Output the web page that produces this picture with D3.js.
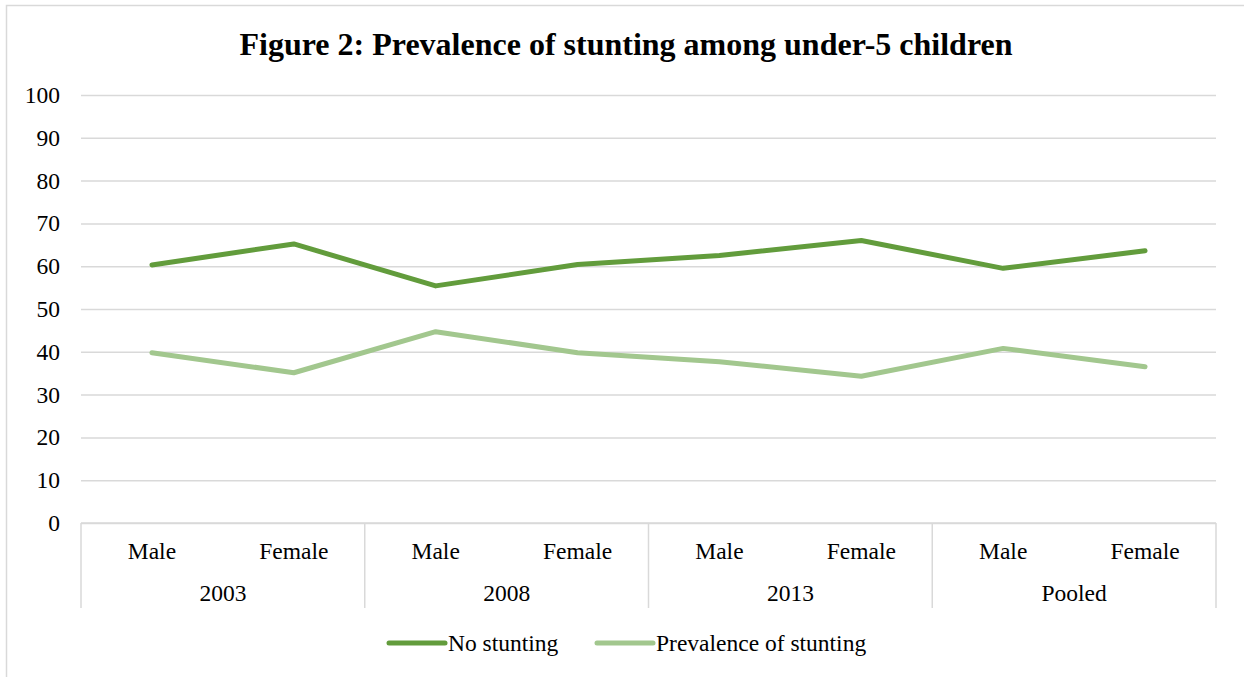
<!DOCTYPE html>
<html>
<head>
<meta charset="utf-8">
<script src="https://cdn.jsdelivr.net/npm/d3@7"></script>
<style>
  html, body { margin: 0; padding: 0; background: #fff; }
  svg { display: block; }
  text { font-family: "Liberation Serif", "Times New Roman", serif; fill: #000; }
</style>
</head>
<body>
<svg id="chart" width="1244" height="677"></svg>
<script>
// Stunting prevalence by survey round and sex (percent)
const groups = ["2003", "2008", "2013", "Pooled"];
const sexes = ["Male", "Female"];
const noStunting = [60.3, 65.2, 55.4, 60.4, 62.5, 66.0, 59.5, 63.6];
const stunting = [39.8, 35.1, 44.7, 39.8, 37.7, 34.3, 40.8, 36.5];
const yTicks = [0, 10, 20, 30, 40, 50, 60, 70, 80, 90, 100];
const seriesNames = ["No stunting", "Prevalence of stunting"];
const seriesColors = ["#629c3c", "#a2c78e"];

const categories = [];
groups.forEach(g => sexes.forEach(s => categories.push(g + "|" + s)));

const svg = d3.select("#chart");
const gridColor = "#d9d9d9";
const labelSize = "23.5px";

// outer frame
svg.append("rect")
  .attr("x", 6.5).attr("y", 5.5)
  .attr("width", 1260).attr("height", 700)
  .attr("fill", "none").attr("stroke", gridColor).attr("stroke-width", 1.5);

const plotLeft = 81, plotRight = 1216, plotTop = 95, plotBottom = 523;

const x = d3.scaleBand().domain(categories).range([plotLeft, plotRight]).padding(0);
const xGroup = d3.scaleBand().domain(groups).range([plotLeft, plotRight]).padding(0);
const y = d3.scaleLinear().domain([0, 100]).range([plotBottom, plotTop]);

// title
svg.append("text")
  .attr("x", 626).attr("y", 55)
  .attr("text-anchor", "middle")
  .style("font-size", "32px").style("font-weight", "bold")
  .text("Figure 2: Prevalence of stunting among under-5 children");

// horizontal gridlines and y labels
const yAxis = d3.axisLeft(y).tickValues(yTicks).tickSize(-(plotRight - plotLeft)).tickPadding(21);
const gy = svg.append("g").attr("transform", `translate(${plotLeft},0)`).call(yAxis);
gy.select(".domain").remove();
gy.selectAll(".tick line").attr("stroke", gridColor).attr("stroke-width", 1.5);
gy.selectAll(".tick text")
  .style("font-size", labelSize)
  .style("font-family", "'Liberation Serif', 'Times New Roman', serif")
  .attr("fill", "#000");

// category axis: sex labels, group labels and group separators
const gx = svg.append("g");
gx.append("line")
  .attr("x1", plotLeft).attr("x2", plotRight).attr("y1", plotBottom).attr("y2", plotBottom)
  .attr("stroke", gridColor).attr("stroke-width", 1.5);

const sepX = groups.map(g => xGroup(g)).concat([plotRight]);
gx.selectAll("line.sep").data(sepX).join("line")
  .attr("class", "sep")
  .attr("x1", d => d).attr("x2", d => d)
  .attr("y1", plotBottom).attr("y2", 608)
  .attr("stroke", gridColor).attr("stroke-width", 1.5);

gx.selectAll("text.sex").data(categories).join("text")
  .attr("class", "sex")
  .attr("x", d => x(d) + x.bandwidth() / 2)
  .attr("y", 559)
  .attr("text-anchor", "middle")
  .style("font-size", labelSize)
  .text(d => d.split("|")[1]);

gx.selectAll("text.grp").data(groups).join("text")
  .attr("class", "grp")
  .attr("x", d => xGroup(d) + xGroup.bandwidth() / 2)
  .attr("y", 601)
  .attr("text-anchor", "middle")
  .style("font-size", labelSize)
  .text(d => d);

// series lines
const line = d3.line()
  .x((d, i) => x(categories[i]) + x.bandwidth() / 2)
  .y(d => y(d));

[noStunting, stunting].forEach((vals, k) => {
  svg.append("path")
    .datum(vals)
    .attr("d", line)
    .attr("fill", "none")
    .attr("stroke", seriesColors[k])
    .attr("stroke-width", 5)
    .attr("stroke-linecap", "round")
    .attr("stroke-linejoin", "round");
});

// legend
const legendItems = [
  { name: seriesNames[0], color: seriesColors[0], x0: 389 },
  { name: seriesNames[1], color: seriesColors[1], x0: 597 }
];
const lg = svg.append("g");
legendItems.forEach(it => {
  lg.append("line")
    .attr("x1", it.x0).attr("x2", it.x0 + 56)
    .attr("y1", 643).attr("y2", 643)
    .attr("stroke", it.color).attr("stroke-width", 5)
    .attr("stroke-linecap", "round");
  lg.append("text")
    .attr("x", it.x0 + 59).attr("y", 651)
    .style("font-size", labelSize)
    .text(it.name);
});
</script>
</body>
</html>
